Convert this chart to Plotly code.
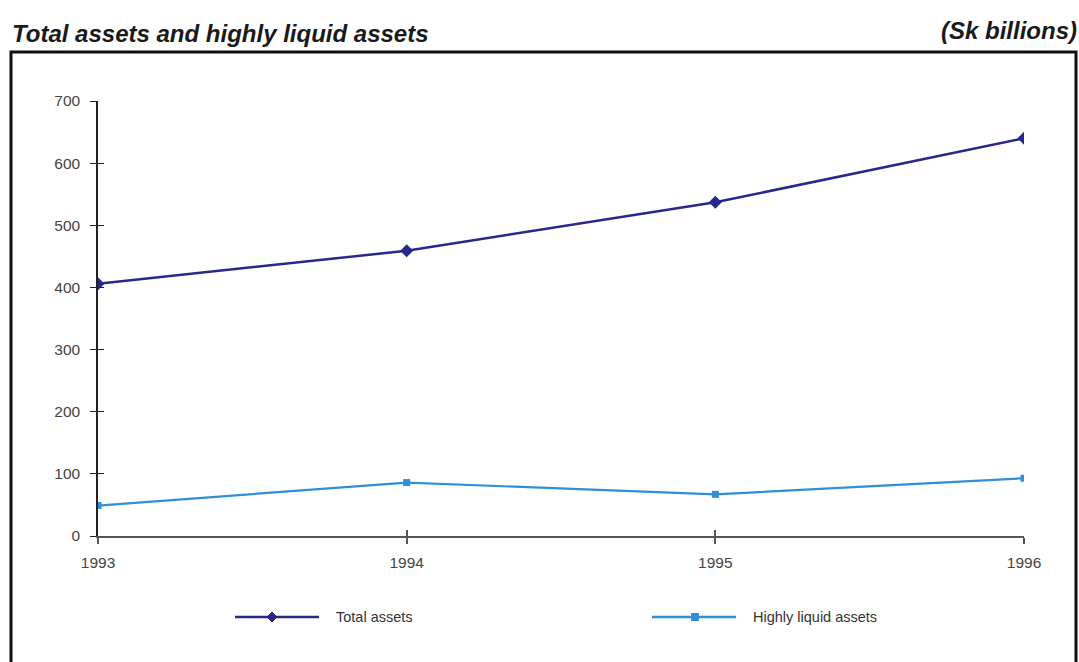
import plotly.graph_objects as go

# Data (Sk billions)
years = [1993, 1994, 1995, 1996]
total_assets = [406, 459, 537, 640]
highly_liquid_assets = [49, 86, 67, 93]
y_ticks = [0, 100, 200, 300, 400, 500, 600, 700]
series_names = ["Total assets", "Highly liquid assets"]

W, H = 1079, 662
L, R, T, B = 98, 55, 101, 126
pw, ph = W - L - R, H - T - B


def px_x(x):
    return (x - L) / pw


def px_y(y):
    return (H - B - y) / ph


NAVY = "#27278c"
SKY = "#2f8fd8"
FONT = "Liberation Sans, Arial, sans-serif"

fig = go.Figure()
fig.add_trace(go.Scatter(
    x=years, y=total_assets, name=series_names[0], mode="lines+markers",
    line=dict(color=NAVY, width=2.5),
    marker=dict(symbol="diamond", size=10, color=NAVY),
))
fig.add_trace(go.Scatter(
    x=years, y=highly_liquid_assets, name=series_names[1], mode="lines+markers",
    line=dict(color=SKY, width=2.2),
    marker=dict(symbol="square", size=7, color=SKY),
))

axis_font = dict(family=FONT, size=15.5, color="#444444")

# Hand-built legend: long sample lines with the marker in the middle
legend_items = [
    dict(x0=235, x1=319, xm=272, tx=334, color=NAVY,
         path="M-5,0 L0,5 L5,0 L0,-5 Z"),
    dict(x0=652, x1=736, xm=695, tx=751, color=SKY,
         path="M-3.5,-3.5 L3.5,-3.5 L3.5,3.5 L-3.5,3.5 Z"),
]
legend_y = 617

shapes = [
    dict(type="rect", xref="paper", yref="paper",
         x0=px_x(11), x1=px_x(1076), y0=px_y(680), y1=px_y(52),
         line=dict(color="#111111", width=3), fillcolor="rgba(0,0,0,0)", layer="below"),
]
annotations = [
    dict(text="<b><i>Total assets and highly liquid assets</i></b>",
         xref="paper", yref="paper", x=px_x(10), y=px_y(33),
         xanchor="left", yanchor="middle", showarrow=False,
         font=dict(family=FONT, size=24, color="#1a1a1a")),
    dict(text="<b><i>(Sk billions)</i></b>",
         xref="paper", yref="paper", x=px_x(1079), y=px_y(31),
         xanchor="right", yanchor="middle", showarrow=False,
         font=dict(family=FONT, size=24, color="#1a1a1a")),
]
for item, name in zip(legend_items, series_names):
    shapes.append(dict(type="line", xref="paper", yref="paper",
                       x0=px_x(item["x0"]), x1=px_x(item["x1"]),
                       y0=px_y(legend_y), y1=px_y(legend_y),
                       line=dict(color=item["color"], width=2.5)))
    shapes.append(dict(type="path", xref="paper", yref="paper",
                       xsizemode="pixel", ysizemode="pixel",
                       xanchor=px_x(item["xm"]), yanchor=px_y(legend_y),
                       path=item["path"], fillcolor=item["color"],
                       line=dict(color=item["color"], width=1)))
    annotations.append(dict(text=name, xref="paper", yref="paper",
                            x=px_x(item["tx"]), y=px_y(legend_y),
                            xanchor="left", yanchor="middle", showarrow=False,
                            font=dict(family=FONT, size=14.5, color="#333333")))

fig.update_layout(
    width=W, height=H,
    margin=dict(l=L, r=R, t=T, b=B, autoexpand=False),
    paper_bgcolor="white", plot_bgcolor="white",
    showlegend=False,
    xaxis=dict(
        range=[1993, 1996], tickvals=years, ticktext=[str(y) for y in years],
        showgrid=False, zeroline=False, showline=True, linecolor="#555555", linewidth=1.5,
        ticks="outside", ticklen=6, tickwidth=1.5, tickcolor="#555555",
        tickfont=axis_font, ticklabelstandoff=6,
    ),
    yaxis=dict(
        range=[0, 700], tickvals=y_ticks,
        showgrid=False, zeroline=False, showline=True, linecolor="#222222", linewidth=1.5,
        ticks="outside", ticklen=6, tickwidth=1.2, tickcolor="#222222",
        tickfont=axis_font, ticklabelstandoff=7,
    ),
    # companion axes giving the inner half of the crossing tick marks
    xaxis2=dict(
        overlaying="x", anchor="y", range=[1993, 1996], tickvals=years,
        showticklabels=False, showgrid=False, zeroline=False, showline=False,
        ticks="inside", ticklen=6, tickwidth=1.5, tickcolor="#555555",
    ),
    yaxis2=dict(
        overlaying="y", anchor="x", range=[0, 700], tickvals=y_ticks,
        showticklabels=False, showgrid=False, zeroline=False, showline=False,
        ticks="inside", ticklen=6, tickwidth=1.2, tickcolor="#222222",
    ),
    shapes=shapes,
    annotations=annotations,
)

# invisible anchor so the companion axes are drawn
fig.add_trace(go.Scatter(x=[1993], y=[0], xaxis="x2", yaxis="y2", mode="markers",
                         marker=dict(opacity=0), showlegend=False, hoverinfo="skip"))

fig.write_html("out.html")
